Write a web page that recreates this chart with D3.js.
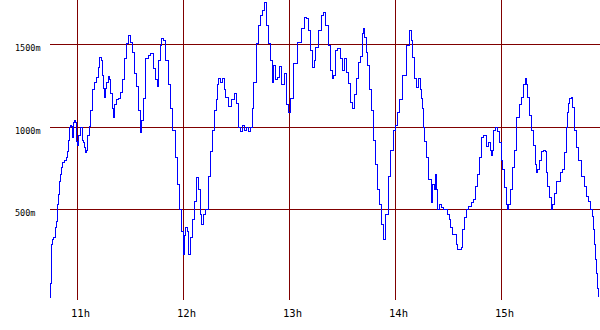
<!DOCTYPE html>
<html>
<head>
<meta charset="utf-8">
<script src="https://cdn.jsdelivr.net/npm/d3@7"></script>
<style>
  body { margin: 0; background: #fff; }
  svg { display: block; }
  text { font-family: "DejaVu Sans Mono", monospace; fill: #000; }
</style>
</head>
<body>
<div id="chart"></div>
<script>
// samples: minutes after startTime, and the value (in m units)
const startTime = "10:44", endTime = "15:56";
const minutes = [0,1.1,1.7,2.3,2.8,4.0,4.5,5.1,5.7,6.2,6.8,7.4,7.9,9.1,10.2,10.8,11.3,11.9,12.5,13.0,
  13.6,14.2,14.7,15.3,15.9,16.5,17.0,18.2,18.7,19.3,19.9,20.4,21.0,21.6,22.1,23.3,23.8,25.0,26.1,27.2,
  28.4,28.9,30.1,30.6,31.2,31.8,32.3,32.9,34.0,34.6,35.2,36.3,36.9,37.4,38.6,39.7,40.8,42.0,43.1,44.2,
  45.4,46.5,47.7,48.8,49.9,51.1,52.2,52.8,53.9,55.6,56.7,57.9,59.6,60.7,61.3,62.4,63.5,64.1,65.2,66.4,
  68.1,69.2,70.9,72.0,73.2,74.3,75.5,76.0,76.6,77.7,78.3,79.4,80.6,81.7,82.8,84.0,85.1,85.7,86.8,87.9,
  89.1,90.8,91.9,93.0,94.2,94.7,95.3,96.4,97.6,98.7,99.3,100.4,102.1,103.8,105.5,106.7,107.8,108.9,110.1,111.2,
  112.3,113.5,114.6,115.2,116.3,118.0,119.1,120.3,121.4,122.5,123.1,124.8,125.9,126.5,127.6,128.8,129.9,131.0,132.2,133.9,
  135.0,136.2,137.3,139.0,141.8,144.1,145.2,146.4,147.5,148.6,149.8,150.3,151.5,153.2,154.9,156.0,157.1,158.8,160.0,160.5,
  161.7,162.8,164.0,165.7,166.2,167.9,169.1,170.2,171.3,172.5,173.6,174.7,175.9,177.0,177.6,178.1,179.3,179.8,181.0,182.1,
  183.2,184.4,185.5,186.6,187.8,188.9,190.0,191.2,192.9,194.0,195.2,196.3,197.4,198.6,200.8,203.1,204.2,205.4,205.9,207.1,
  208.2,209.3,210.5,211.0,211.6,212.2,212.7,213.9,215.6,216.7,217.3,218.4,219.0,219.5,220.1,221.2,222.4,223.5,224.7,225.8,
  226.9,227.5,228.6,229.8,230.9,231.5,233.2,233.7,234.3,235.4,236.6,238.3,239.4,240.5,242.2,242.8,243.9,245.1,246.2,247.3,
  247.9,249.6,250.2,250.7,251.3,251.9,253.6,254.1,255.3,256.4,257.0,258.1,259.3,259.8,260.4,262.1,262.7,263.8,265.5,266.6,
  267.8,268.9,270.0,270.6,271.2,272.3,273.4,274.6,275.7,276.3,276.8,278.0,279.1,280.2,281.4,281.9,282.5,283.7,284.8,285.4,
  286.5,288.2,290.5,291.0,292.2,293.3,293.9,294.4,295.0,296.1,296.7,297.8,299.0,300.7,302.4,303.5,304.6,305.8,307.5,308.0,
  308.6,309.2,309.7,310.3,310.9,311.4];
const values = [-35,50,290,320,330,390,430,530,590,670,710,755,785,800,815,850,920,995,1010,1005,
  935,1030,1040,1030,915,890,950,1000,1000,920,905,875,845,860,950,1005,1100,1225,1270,1300,
  1360,1420,1405,1315,1235,1180,1235,1270,1305,1285,1205,1115,1060,1135,1165,1175,1210,1285,1415,1505,
  1555,1510,1450,1325,1245,1100,965,1040,1175,1415,1435,1445,1355,1285,1245,1405,1495,1535,1525,1405,
  1255,1115,980,815,650,500,365,230,345,390,365,225,330,440,550,695,620,470,410,470,
  500,700,850,980,1100,1165,1255,1295,1270,1295,1225,1180,1125,1165,1205,1145,995,970,1010,980,
  1000,970,1000,1115,1270,1505,1615,1675,1705,1755,1615,1505,1405,1270,1375,1285,1300,1365,1255,1325,
  1135,1085,1175,1385,1510,1600,1665,1655,1585,1465,1360,1405,1480,1585,1675,1695,1615,1495,1345,1295,
  1315,1465,1475,1415,1345,1415,1330,1265,1150,1115,1195,1295,1390,1430,1565,1595,1540,1450,1375,1225,
  1100,920,770,620,530,410,320,470,700,860,980,1010,1090,1165,1315,1495,1585,1525,1420,1295,
  1240,1295,1225,1175,1115,1000,910,815,680,540,650,620,710,620,500,530,510,500,500,470,
  440,390,350,350,290,260,260,270,380,450,500,520,540,560,640,710,815,935,950,950,
  880,905,860,830,860,980,995,970,905,800,740,635,530,500,530,620,755,860,1055,1135,
  1180,1255,1295,1255,1180,1070,980,890,770,725,740,800,850,860,850,725,640,570,500,530,
  600,670,725,740,845,1000,1090,1145,1175,1180,1120,980,875,800,700,640,580,550,500,460,
  380,290,200,110,20,-30];
const hourTicks = ["11:00", "12:00", "13:00", "14:00", "15:00"];
const hourLabels = ["11h", "12h", "13h", "14h", "15h"];
const yTicks = [500, 1000, 1500];
const yLabels = ["500m", "1000m", "1500m"];

var width = 600, height = 330;
var plot = {left: 50, right: 600, top: 0, bottom: 300};
var parseTime = d3.timeParse("%H:%M");
var t0 = parseTime(startTime);

if (minutes.length !== values.length) console.log("length mismatch", minutes.length, values.length);

var data = minutes.map((m, i) => ({date: new Date(t0.getTime() + m * 60000), value: values[i]}));

var x = d3.scaleTime()
    .domain([t0, parseTime(endTime)])
    .range([49.2333, 600.4333]);
var y = d3.scaleLinear()
    .domain([500, 1500])
    .range([209.5, 44.5]);

var svg = d3.select("#chart")
  .append("svg")
    .attr("width", width)
    .attr("height", height);

svg.append("rect")
    .attr("width", width)
    .attr("height", height)
    .attr("fill", "#fff");

svg.append("clipPath")
    .attr("id", "plot-clip")
  .append("rect")
    .attr("x", plot.left)
    .attr("y", plot.top)
    .attr("width", plot.right - plot.left)
    .attr("height", plot.bottom - plot.top);

// horizontal grid
svg.append("g")
  .selectAll("line")
  .data(yTicks)
  .join("line")
    .attr("x1", plot.left)
    .attr("x2", plot.right)
    .attr("y1", d => Math.floor(y(d)) + 0.5)
    .attr("y2", d => Math.floor(y(d)) + 0.5)
    .attr("stroke", "#800000")
    .attr("shape-rendering", "crispEdges");

// vertical grid
svg.append("g")
  .selectAll("line")
  .data(hourTicks)
  .join("line")
    .attr("x1", d => Math.floor(x(parseTime(d))) + 0.5)
    .attr("x2", d => Math.floor(x(parseTime(d))) + 0.5)
    .attr("y1", plot.top)
    .attr("y2", plot.bottom)
    .attr("stroke", "#800000")
    .attr("shape-rendering", "crispEdges");

// y labels (left aligned)
svg.append("g")
  .selectAll("text")
  .data(yTicks)
  .join("text")
    .attr("x", 15)
    .attr("y", d => Math.floor(y(d)) + 6.5)
    .style("font-size", "8.5px")
    .text((d, i) => yLabels[i]);

// x labels
svg.append("g")
  .selectAll("text")
  .data(hourTicks)
  .join("text")
    .attr("x", d => x(parseTime(d)) + 3)
    .attr("y", 317)
    .attr("text-anchor", "middle")
    .style("font-size", "10.5px")
    .text((d, i) => hourLabels[i]);

// stepped line, pixel-aligned like the original rrd graph
var line = d3.line()
    .curve(d3.curveStep)
    .x(d => x(d.date))
    .y(d => y(d.value));

svg.append("path")
    .datum(data)
    .attr("clip-path", "url(#plot-clip)")
    .attr("fill", "none")
    .attr("stroke", "#0000ff")
    .attr("stroke-width", 1)
    .attr("shape-rendering", "crispEdges")
    .attr("d", line);
</script>
</body>
</html>
